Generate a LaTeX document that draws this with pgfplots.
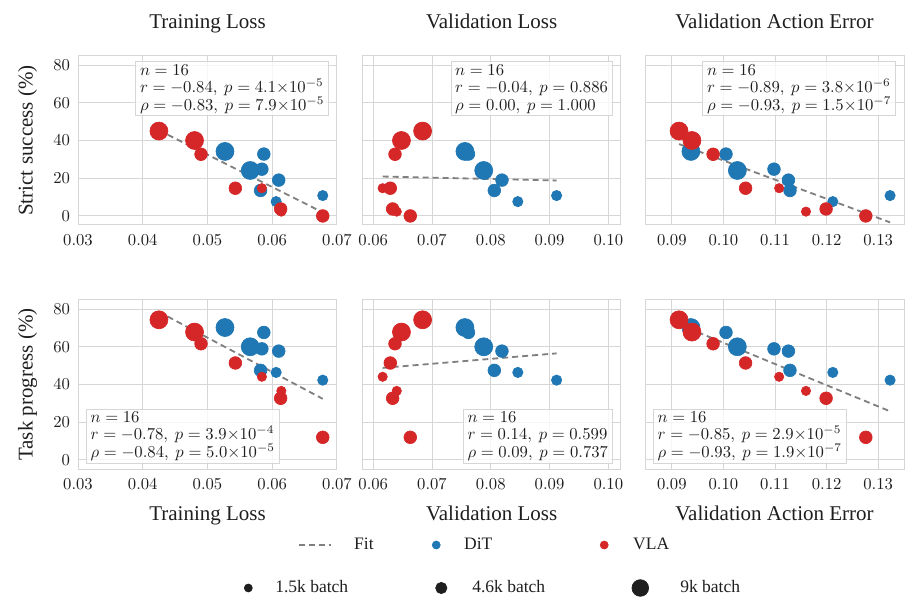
\documentclass[border=0pt]{standalone}
\usepackage{pgfplots}
\pgfplotsset{compat=1.18}
\usepackage{pgfplotstable}
\usepackage{fontspec}
\setmainfont{Liberation Serif}

\definecolor{dit}{RGB}{31,119,180}
\definecolor{vla}{RGB}{214,39,40}
\definecolor{fitc}{RGB}{128,128,128}
\definecolor{gridc}{RGB}{214,214,214}
\definecolor{txt}{RGB}{30,30,30}

% per-model metrics; r = marker radius (pt) by batch size
\pgfplotstableread{
train  val    act    strict prog r
0.0527 0.0756 0.0937 34.2   70.2 5.4
0.0566 0.0788 0.1027 24.1   60.0 5.4
0.0587 0.0762 0.1005 32.8   67.6 3.8
0.0584 0.0790 0.1098 24.8   58.9 3.8
0.0610 0.0819 0.1126 19.0   57.7 3.8
0.0582 0.0806 0.1129 13.5   47.5 3.8
0.0606 0.0846 0.1212  7.6   46.4 3.1
0.0678 0.0912 0.1323 10.8   42.3 3.1
}\dittab

\pgfplotstableread{
train  val    act    strict prog r
0.0425 0.0684 0.0914 45.0   74.3 5.4
0.0480 0.0648 0.0939 40.0   67.8 5.4
0.0490 0.0637 0.0980 32.7   61.6 3.8
0.0543 0.0629 0.1043 14.7   51.4 3.8
0.0584 0.0616 0.1108 14.7   44.1 2.8
0.0613 0.0633 0.1199  3.7   32.7 3.8
0.0614 0.0640 0.1160  2.3   36.6 2.8
0.0678 0.0663 0.1276  0.0   12.0 3.8
}\vlatab

\tikzset{
  statbox/.style={draw=gridc, line width=0.6pt, fill=white, fill opacity=0.8, text opacity=1,
    inner xsep=2.5pt, inner ysep=1.6pt, align=left, text=txt,
    font=\fontsize{9.6pt}{10.4pt}\selectfont},
}

\pgfplotsset{
  panel/.style={
    scale only axis, height=101.4pt,
    ymin=-4.8, ymax=84.8, ytick={0,20,40,60,80},
    xmajorgrids, ymajorgrids,
    major grid style={line width=0.6pt, draw=gridc},
    axis line style={line width=0.6pt, draw=gridc},
    major tick length=0pt, tick style={draw=none},
    scaled x ticks=false,
    xticklabel style={/pgf/number format/fixed, /pgf/number format/fixed zerofill, /pgf/number format/precision=2},
    xticklabel style={yshift=-2.2pt},
    yticklabel style={xshift=-1.3pt},
    tick label style={font=\fontsize{10.4pt}{12pt}\selectfont, text=txt},
    every axis title/.style={at={(0.5,1)}, anchor=base, yshift=16.6pt,
      font=\fontsize{12.6pt}{15pt}\selectfont, text=txt},
    every axis x label/.style={at={(0.5,0)}, anchor=base, yshift=-31pt,
      font=\fontsize{12.6pt}{15pt}\selectfont, text=txt},
    every axis y label/.style={at={(0,0.5)}, xshift=-27.2pt, rotate=90, anchor=base,
      font=\fontsize{12.6pt}{15pt}\selectfont, text=txt},
  },
  fitline/.style={no marks, draw=fitc, line width=1.1pt, dash pattern=on 3.6pt off 2.4pt},
  bubbles/.style={scatter, only marks, mark=*,
    scatter/use mapped color={draw=#1, fill=#1},
    visualization depends on={\thisrow{r} \as \markrad},
    scatter/@pre marker code/.append style={/tikz/mark size=\markrad}},
  colL/.style={at={(46.8pt,#1)}, anchor=south west, width=155.4pt, xmin=0.03, xmax=0.07,
    xtick={0.03,0.04,0.05,0.06,0.07}},
  colM/.style={at={(217.6pt,#1)}, anchor=south west, width=154.8pt, xmin=0.0582, xmax=0.1021,
    xtick={0.06,0.07,0.08,0.09,0.10}, yticklabels={}},
  colR/.style={at={(387pt,#1)}, anchor=south west, width=155.4pt, xmin=0.0848, xmax=0.135,
    xtick={0.09,0.10,0.11,0.12,0.13}, yticklabels={}},
  keyrow/.style={at={(0pt,0pt)}, anchor=south west, scale only axis, width=552pt, height=367.8pt,
    hide axis, xmin=0, xmax=1, ymin=0, ymax=1,
    legend columns=3, legend cell align=left,
    legend style={at={#1}, anchor=west, draw=none, fill=none,
      inner xsep=0pt, inner ysep=0pt, column sep=0pt, nodes={inner sep=0pt},
      font=\fontsize{10.5pt}{12.6pt}\selectfont, text=txt}},
}

\begin{document}
\begin{tikzpicture}
\path[use as bounding box] (0pt,0pt) rectangle (552pt,367.8pt);

% ---- strict success row ----
\begin{axis}[panel, colL=232.8pt, title={Training Loss}, ylabel={Strict success (\%)}]
\addplot[fitline] coordinates {(0.0425,45.4) (0.0678,1.9)};
\addplot[bubbles=dit] table[x=train, y=strict] {\dittab};
\addplot[bubbles=vla] table[x=train, y=strict] {\vlatab};
\node[statbox, anchor=north east, xshift=-4.8pt, yshift=-3.3pt] at (rel axis cs:1,1)
  {$n=16$\\$r=-0.84,\ p=4.1{\times}10^{-5}$\\$\rho=-0.83,\ p=7.9{\times}10^{-5}$};
\end{axis}

\begin{axis}[panel, colM=232.8pt, title={Validation Loss}]
\addplot[fitline] coordinates {(0.0616,20.9) (0.0912,18.8)};
\addplot[bubbles=dit] table[x=val, y=strict] {\dittab};
\addplot[bubbles=vla] table[x=val, y=strict] {\vlatab};
\node[statbox, anchor=north east, xshift=-4.8pt, yshift=-3.3pt] at (rel axis cs:1,1)
  {$n=16$\\$r=-0.04,\ p=0.886$\\$\rho=0.00,\ p=1.000$};
\end{axis}

\begin{axis}[panel, colR=232.8pt, title={Validation Action Error}]
\addplot[fitline] coordinates {(0.0914,38.1) (0.1323,-3.4)};
\addplot[bubbles=dit] table[x=act, y=strict] {\dittab};
\addplot[bubbles=vla] table[x=act, y=strict] {\vlatab};
\node[statbox, anchor=north east, xshift=-4.8pt, yshift=-3.3pt] at (rel axis cs:1,1)
  {$n=16$\\$r=-0.89,\ p=3.8{\times}10^{-6}$\\$\rho=-0.93,\ p=1.5{\times}10^{-7}$};
\end{axis}

% ---- task progress row ----
\begin{axis}[panel, colL=86.4pt, xlabel={Training Loss}, ylabel={Task progress (\%)}]
\addplot[fitline] coordinates {(0.0425,78.5) (0.0678,32.4)};
\addplot[bubbles=dit] table[x=train, y=prog] {\dittab};
\addplot[bubbles=vla] table[x=train, y=prog] {\vlatab};
\node[statbox, anchor=south west, xshift=4.8pt, yshift=3.3pt] at (rel axis cs:0,0)
  {$n=16$\\$r=-0.78,\ p=3.9{\times}10^{-4}$\\$\rho=-0.84,\ p=5.0{\times}10^{-5}$};
\end{axis}

\begin{axis}[panel, colM=86.4pt, xlabel={Validation Loss}]
\addplot[fitline] coordinates {(0.0616,48.8) (0.0912,56.5)};
\addplot[bubbles=dit] table[x=val, y=prog] {\dittab};
\addplot[bubbles=vla] table[x=val, y=prog] {\vlatab};
\node[statbox, anchor=south east, xshift=-4.8pt, yshift=3.3pt] at (rel axis cs:1,0)
  {$n=16$\\$r=0.14,\ p=0.599$\\$\rho=0.09,\ p=0.737$};
\end{axis}

\begin{axis}[panel, colR=86.4pt, xlabel={Validation Action Error}]
\addplot[fitline] coordinates {(0.0914,71.8) (0.1323,25.8)};
\addplot[bubbles=dit] table[x=act, y=prog] {\dittab};
\addplot[bubbles=vla] table[x=act, y=prog] {\vlatab};
\node[statbox, anchor=south west, xshift=4.8pt, yshift=3.3pt] at (rel axis cs:0,0)
  {$n=16$\\$r=-0.85,\ p=2.9{\times}10^{-5}$\\$\rho=-0.93,\ p=1.9{\times}10^{-7}$};
\end{axis}

% ---- legends ----
\begin{axis}[keyrow={(0.3239,0.1109)}]
\addlegendimage{fitline, legend image code/.code={\path[draw=none,fill=none] (0pt,-3pt) rectangle (33pt,3pt); \draw (0pt,0pt) -- (19.2pt,0pt);}}
\addlegendentry{\makebox[42pt][l]{Fit}}
\addlegendimage{only marks, mark=*, mark size=2.4pt, color=dit,
  legend image code/.code={\path[draw=none,fill=none] (0pt,-3pt) rectangle (24pt,3pt); \draw plot coordinates {(7.2pt,0pt)};}}
\addlegendentry{\makebox[77.4pt][l]{DiT}}
\addlegendimage{only marks, mark=*, mark size=2.4pt, color=vla,
  legend image code/.code={\path[draw=none,fill=none] (0pt,-3pt) rectangle (24pt,3pt); \draw plot coordinates {(6.6pt,0pt)};}}
\addlegendentry{\makebox[24pt][l]{VLA}}
\end{axis}

\begin{axis}[keyrow={(0.2554,0.0408)}]
\addlegendimage{only marks, mark=*, mark size=2.4pt, color=txt,
  legend image code/.code={\path[draw=none,fill=none] (0pt,-3pt) rectangle (24pt,3pt); \draw plot coordinates {(7.8pt,0pt)};}}
\addlegendentry{\makebox[94.2pt][l]{1.5k batch}}
\addlegendimage{only marks, mark=*, mark size=3.4pt, color=txt,
  legend image code/.code={\path[draw=none,fill=none] (0pt,-3.4pt) rectangle (24pt,3.4pt); \draw plot coordinates {(5.4pt,0pt)};}}
\addlegendentry{\makebox[94.8pt][l]{4.6k batch}}
\addlegendimage{only marks, mark=*, mark size=5pt, color=txt,
  legend image code/.code={\path[draw=none,fill=none] (0pt,-5pt) rectangle (30pt,5pt); \draw plot coordinates {(6pt,0pt)};}}
\addlegendentry{\makebox[42pt][l]{9k batch}}
\end{axis}
\end{tikzpicture}
\end{document}
